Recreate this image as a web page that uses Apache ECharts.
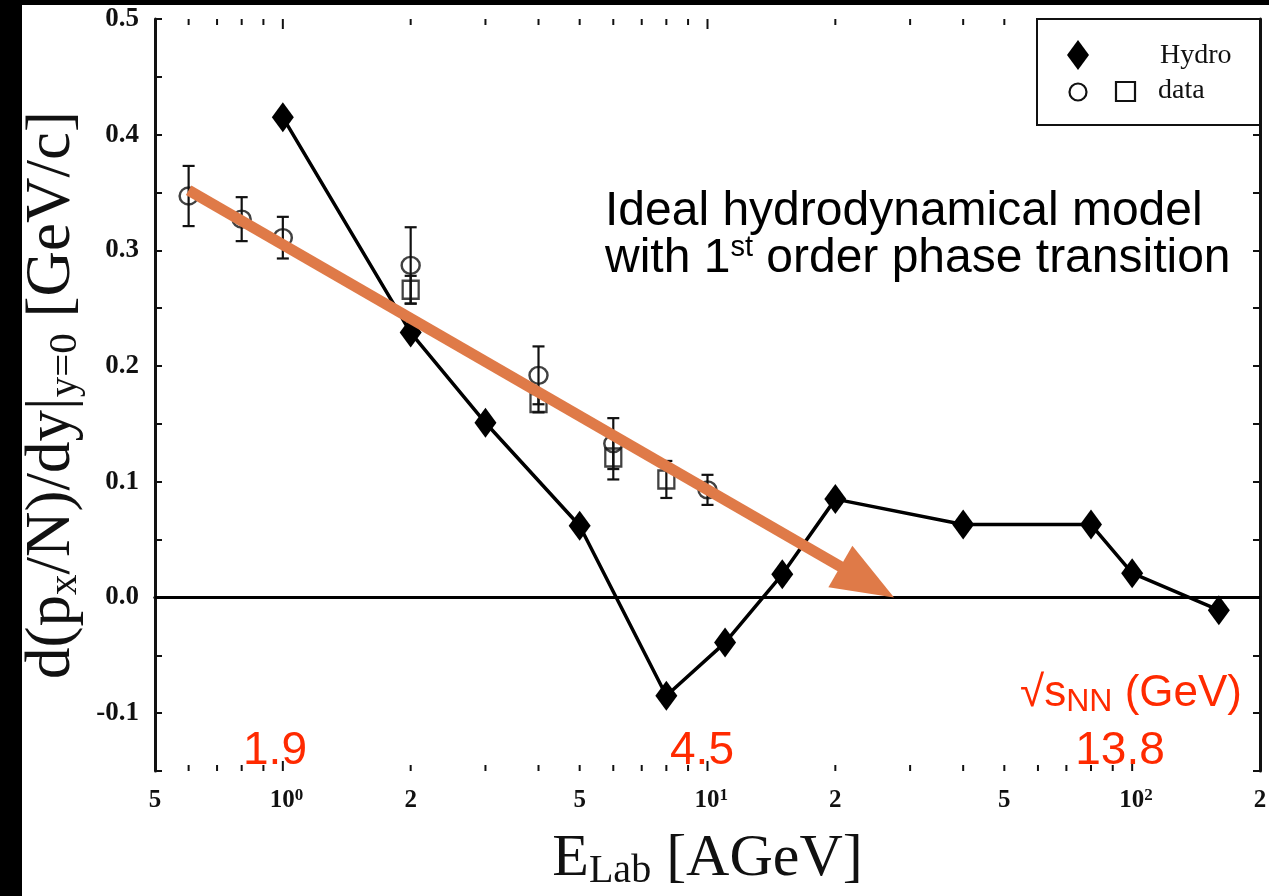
<!DOCTYPE html>
<html>
<head>
<meta charset="utf-8">
<script src="https://cdn.jsdelivr.net/npm/echarts@6/dist/echarts.min.js"></script>
<style>
  html, body { margin: 0; padding: 0; background: #fff; }
  #chart { width: 1269px; height: 896px; }
</style>
</head>
<body>
<div id="chart"></div>
<script>
// Hydro model: slope of directed flow at midrapidity vs beam energy
const hydroE = [1, 2, 3, 5, 8, 11, 15, 20, 40, 80, 100, 160];
const hydroV = [0.415, 0.229, 0.151, 0.062, -0.085, -0.039, 0.020, 0.085, 0.063, 0.063, 0.021, -0.011];

// measured points (circles) with symmetric errors
const circE = [0.6, 0.8, 1.0, 2.0, 4.0, 6.0, 10.0];
const circV = [0.347, 0.327, 0.311, 0.287, 0.192, 0.133, 0.093];
const circErr = [0.026, 0.019, 0.018, 0.033, 0.025, 0.022, 0.013];

// measured points (squares) with symmetric errors
const sqE = [2.0, 4.0, 6.0, 8.0];
const sqV = [0.266, 0.168, 0.121, 0.102];
const sqErr = [0.012, 0.008, 0.019, 0.016];

// trend arrow, start and tip
const arrowFrom = [0.6, 0.352];
const arrowTo = [27.5, 0.0];

// axes
const xMin = 0.5, xMax = 200;
const yMin = -0.15, yMax = 0.5, yStep = 0.05;
const xTickValues = [0.5, 0.6, 0.7, 0.8, 0.9, 1, 2, 3, 4, 5, 6, 7, 8, 9,
                     10, 20, 30, 40, 50, 60, 70, 80, 90, 100, 200];
const xLabelValues = [0.5, 1, 2, 5, 10, 20, 50, 100, 200];
const xLabelTexts = ['5', '10{sup|0}', '2', '5', '10{sup|1}', '2', '5', '10{sup|2}', '2'];

// sqrt(s_NN) annotations
const sqrtsTexts = ['1.9', '4.5', '13.8'];
const sqrtsTitle = '√s{nn|NN} (GeV)';

const ORANGE = '#df7a48';
const RED = '#ff2a00';
const INK = '#111';
const SERIF = '"Liberation Serif", "Times New Roman", serif';
const SANS = '"Liberation Sans", Arial, sans-serif';

const chart = echarts.init(document.getElementById('chart'), null, { renderer: 'canvas' });

const isDecade = v => Math.abs(Math.log10(v) - Math.round(Math.log10(v))) < 1e-9;

const errData = circE.map((e, i) => [e, circV[i] - circErr[i], circV[i] + circErr[i]])
  .concat(sqE.map((e, i) => [e, sqV[i] - sqErr[i], sqV[i] + sqErr[i]]));

const tickLabel = {
  fontFamily: SERIF, fontWeight: 'bold', fontSize: 27, color: INK
};

const option = {
  backgroundColor: '#fff',
  animation: false,
  grid: { left: 155, right: 9, top: 19, bottom: 116, containLabel: false },
  xAxis: [
    {
      type: 'log', logBase: 10, min: xMin, max: xMax,
      name: 'E{sub|Lab} [AGeV]',
      nameLocation: 'middle', nameGap: 56,
      nameTextStyle: {
        fontFamily: SERIF, fontSize: 60, color: INK, lineHeight: 64,
        rich: {
          sub: { fontFamily: SERIF, fontSize: 40, color: INK, lineHeight: 40, verticalAlign: 'bottom' }
        }
      },
      axisLine: { show: true, lineStyle: { color: INK, width: 3 } },
      axisTick: { show: false },
      axisLabel: { show: false },
      splitLine: { show: false }
    },
    {
      type: 'log', logBase: 10, min: xMin, max: xMax, position: 'top',
      axisLine: { show: true, lineStyle: { color: INK, width: 3 } },
      axisTick: { show: false },
      axisLabel: { show: false },
      splitLine: { show: false }
    }
  ],
  yAxis: [
    {
      type: 'value', min: yMin, max: yMax, interval: yStep,
      name: 'd(p{sub|x}/N)/dy|{sub|y=0} [GeV/c]',
      nameLocation: 'middle', nameGap: 67, nameRotate: 90,
      nameTextStyle: {
        fontFamily: SERIF, fontSize: 63, color: INK, lineHeight: 66,
        rich: {
          sub: { fontFamily: SERIF, fontSize: 41, color: INK, lineHeight: 40, verticalAlign: 'bottom' }
        }
      },
      axisLine: { show: true, lineStyle: { color: INK, width: 3 } },
      axisTick: { show: true, inside: true, length: 7, lineStyle: { color: INK, width: 2 } },
      axisLabel: Object.assign({
        margin: 16,
        formatter: v => {
          const t = v * 10;
          return Math.abs(t - Math.round(t)) < 1e-6 ? (Math.round(t) / 10).toFixed(1) : '';
        }
      }, tickLabel),
      splitLine: { show: false }
    },
    {
      type: 'value', min: yMin, max: yMax, interval: yStep, position: 'right',
      axisLine: { show: true, lineStyle: { color: INK, width: 3 } },
      axisTick: { show: true, inside: true, length: 7, lineStyle: { color: INK, width: 2 } },
      axisLabel: { show: false },
      splitLine: { show: false }
    }
  ],
  series: [
    // minor/major ticks on bottom and top edges of the log axis
    {
      type: 'custom', name: 'xticks', silent: true, clip: false, z: 3,
      data: xTickValues.map(v => [v, yMin]),
      encode: { x: 0, y: 1 },
      renderItem(params, api) {
        const v = api.value(0);
        const b = api.coord([v, yMin]);
        const t = api.coord([v, yMax]);
        const len = isDecade(v) ? 10 : 6;
        const st = { stroke: INK, lineWidth: 2 };
        return {
          type: 'group', children: [
            { type: 'line', shape: { x1: b[0], y1: b[1], x2: b[0], y2: b[1] - len }, style: st },
            { type: 'line', shape: { x1: t[0], y1: t[1], x2: t[0], y2: t[1] + len }, style: st }
          ]
        };
      }
    },
    // tick labels of the log axis
    {
      type: 'custom', name: 'xlabels', silent: true, clip: false, z: 3,
      data: xLabelValues.map(v => [v, yMin]),
      encode: { x: 0, y: 1 },
      renderItem(params, api) {
        const v = api.value(0);
        const p = api.coord([v, yMin]);
        const txt = xLabelTexts[params.dataIndex];
        const hasSup = txt.indexOf('{sup|') >= 0;
        return {
          type: 'text',
          x: hasSup ? p[0] - 13 : p[0], y: p[1] + 30,
          style: {
            text: txt,
            fontFamily: SERIF, fontWeight: 'bold', fontSize: 25, lineHeight: 27,
            fill: INK, align: hasSup ? 'left' : 'center', verticalAlign: 'middle',
            rich: {
              sup: { fontFamily: SERIF, fontWeight: 'bold', fontSize: 17, lineHeight: 17, verticalAlign: 'top', fill: INK }
            }
          }
        };
      }
    },
    // Hydro curve with zero reference line
    {
      type: 'line', name: 'Hydro', z: 4,
      data: hydroE.map((e, i) => [e, hydroV[i]]),
      symbol: 'diamond', symbolSize: [22, 30], showSymbol: true,
      itemStyle: { color: '#000' },
      lineStyle: { color: '#000', width: 3.5 },
      markLine: {
        silent: true, symbol: ['none', 'none'], label: { show: false },
        lineStyle: { color: '#000', width: 3, type: 'solid' },
        data: [{ yAxis: 0 }]
      }
    },
    // error bars for measured points
    {
      type: 'custom', name: 'errors', silent: true, z: 5,
      data: errData,
      encode: { x: 0, y: [1, 2] },
      renderItem(params, api) {
        const lo = api.coord([api.value(0), api.value(1)]);
        const hi = api.coord([api.value(0), api.value(2)]);
        const w = 6;
        const st = { stroke: INK, lineWidth: 2.2 };
        return {
          type: 'group', children: [
            { type: 'line', shape: { x1: lo[0], y1: lo[1], x2: hi[0], y2: hi[1] }, style: st },
            { type: 'line', shape: { x1: lo[0] - w, y1: lo[1], x2: lo[0] + w, y2: lo[1] }, style: st },
            { type: 'line', shape: { x1: hi[0] - w, y1: hi[1], x2: hi[0] + w, y2: hi[1] }, style: st }
          ]
        };
      }
    },
    {
      type: 'scatter', name: 'data (circles)', z: 6,
      data: circE.map((e, i) => [e, circV[i]]),
      symbol: 'circle', symbolSize: [18, 17],
      itemStyle: { color: 'rgba(255,255,255,0)', borderColor: INK, borderWidth: 2.4 }
    },
    {
      type: 'scatter', name: 'data (squares)', z: 6,
      data: sqE.map((e, i) => [e, sqV[i]]),
      symbol: 'rect', symbolSize: [16, 18],
      itemStyle: { color: 'rgba(255,255,255,0)', borderColor: INK, borderWidth: 2.4 }
    },
    // orange trend arrow
    {
      type: 'custom', name: 'trend', silent: true, clip: false, z: 10,
      data: [[arrowFrom[0], arrowFrom[1], arrowTo[0], arrowTo[1]]],
      encode: { x: [0, 2], y: [1, 3] },
      renderItem(params, api) {
        const a = api.coord([api.value(0), api.value(1)]);
        const b = api.coord([api.value(2), api.value(3)]);
        const dx = b[0] - a[0], dy = b[1] - a[1];
        const L = Math.hypot(dx, dy), ux = dx / L, uy = dy / L;
        const headLen = 62, headHalf = 24;
        const bx = b[0] - ux * headLen, by = b[1] - uy * headLen;
        return {
          type: 'group', children: [
            { type: 'line', shape: { x1: a[0], y1: a[1], x2: bx + ux * 2, y2: by + uy * 2 },
              style: { stroke: ORANGE, lineWidth: 11 } },
            { type: 'polygon', shape: { points: [[b[0], b[1]], [bx - uy * headHalf, by + ux * headHalf], [bx + uy * headHalf, by - ux * headHalf]] },
              style: { fill: ORANGE } }
          ]
        };
      }
    }
  ],
  graphic: [
    // dark frame edges
    { type: 'rect', left: 0, top: 0, shape: { width: 22, height: 896 }, style: { fill: '#000' }, z: 100 },
    { type: 'rect', left: 0, top: 0, shape: { width: 1269, height: 5 }, style: { fill: '#000' }, z: 100 },
    // legend box
    { type: 'rect', x: 1037, y: 19, shape: { width: 223, height: 106 }, style: { fill: '#fff', stroke: INK, lineWidth: 2 }, z: 50 },
    { type: 'polygon', shape: { points: [[1078, 40], [1089, 55], [1078, 70], [1067, 55]] }, style: { fill: '#000' }, z: 51 },
    { type: 'text', x: 1160, y: 56, style: { text: 'Hydro', fontFamily: SERIF, fontSize: 28, fill: INK, align: 'left', verticalAlign: 'middle' }, z: 51 },
    { type: 'circle', shape: { cx: 1078, cy: 92, r: 8.5 }, style: { fill: '#fff', stroke: INK, lineWidth: 2.2 }, z: 51 },
    { type: 'rect', shape: { x: 1116, y: 82, width: 19, height: 19 }, style: { fill: '#fff', stroke: INK, lineWidth: 2.2 }, z: 51 },
    { type: 'text', x: 1158, y: 91, style: { text: 'data', fontFamily: SERIF, fontSize: 28, fill: INK, align: 'left', verticalAlign: 'middle' }, z: 51 },
    // model description
    { type: 'text', x: 605, y: 212, style: { text: 'Ideal hydrodynamical model', fontFamily: SANS, fontSize: 48, fill: '#000', align: 'left', verticalAlign: 'middle' }, z: 40 },
    { type: 'text', x: 605, y: 259, style: {
        text: 'with 1{sup|st} order phase transition', fontFamily: SANS, fontSize: 48, lineHeight: 52, fill: '#000', align: 'left', verticalAlign: 'middle',
        rich: { sup: { fontFamily: SANS, fontSize: 29, lineHeight: 28, verticalAlign: 'top', fill: '#000' } }
      }, z: 40 },
    // sqrt(s_NN) scale
    { type: 'text', x: 1242, y: 694, style: {
        text: sqrtsTitle, fontFamily: SANS, fontSize: 44, lineHeight: 48, fill: RED, align: 'right', verticalAlign: 'middle',
        rich: { nn: { fontFamily: SANS, fontSize: 32, lineHeight: 40, verticalAlign: 'bottom', fill: RED } }
      }, z: 40 },
    { type: 'text', x: 275, y: 751, style: { text: sqrtsTexts[0], fontFamily: SANS, fontSize: 46, fill: RED, align: 'center', verticalAlign: 'middle' }, z: 40 },
    { type: 'text', x: 702, y: 751, style: { text: sqrtsTexts[1], fontFamily: SANS, fontSize: 46, fill: RED, align: 'center', verticalAlign: 'middle' }, z: 40 },
    { type: 'text', x: 1120, y: 751, style: { text: sqrtsTexts[2], fontFamily: SANS, fontSize: 46, fill: RED, align: 'center', verticalAlign: 'middle' }, z: 40 }
  ]
};

chart.setOption(option);
</script>
</body>
</html>
